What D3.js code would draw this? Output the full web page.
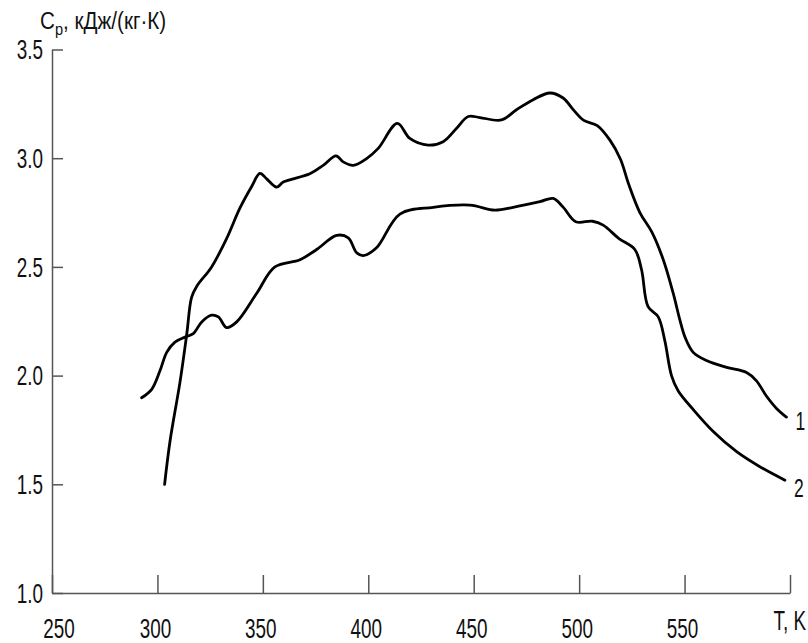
<!DOCTYPE html>
<html>
<head>
<meta charset="utf-8">
<script src="https://cdn.jsdelivr.net/npm/d3@7/dist/d3.min.js"></script>
<style>
  html, body { margin: 0; padding: 0; background: #fff; }
  svg { display: block; }
  text { font-family: "Liberation Sans", Arial, sans-serif; fill: #111; }
</style>
</head>
<body>
<svg id="chart" width="808" height="643"></svg>
<script>
// ---- data ----
const xTicks = [250, 300, 350, 400, 450, 500, 550, 600];
const xTickLabels = ["250", "300", "350", "400", "450", "500", "550", ""];
const yTicks = [1.0, 1.5, 2.0, 2.5, 3.0, 3.5];
const yTickLabels = ["1.0", "1.5", "2.0", "2.5", "3.0", "3.5"];
const seriesNames = ["1", "2"];

const series1T = [303.4, 306, 310.7, 313.9, 316.2, 318.6, 325.7, 332.8, 339.1, 344.7, 348.6, 351.8, 356.5, 359.7, 372.3, 378.6, 384.7, 388.1, 392.9, 399.2, 404.7, 413.8, 419.7, 428.4, 435.5, 441.9, 447.4, 452.9, 463.2, 470.3, 478.2, 486.1, 492.4, 497.5, 502.2, 508.6, 514.6, 519.6, 523.5, 528.8, 534.5, 539.9, 544.6, 547.8, 550.2, 554.1, 560.4, 569.9, 579.4, 584.1, 588.8, 593.6, 598.3];
const series1Cp = [1.50, 1.70, 1.97, 2.19, 2.36, 2.41, 2.50, 2.63, 2.77, 2.87, 2.93, 2.905, 2.867, 2.89, 2.928, 2.967, 3.011, 2.983, 2.967, 2.998, 3.045, 3.16, 3.091, 3.06, 3.076, 3.138, 3.192, 3.187, 3.176, 3.223, 3.269, 3.30, 3.277, 3.22, 3.174, 3.15, 3.083, 2.995, 2.88, 2.75, 2.66, 2.533, 2.379, 2.255, 2.177, 2.107, 2.069, 2.038, 2.014, 1.976, 1.906, 1.849, 1.809];

const series2T = [292.5, 297.3, 301.2, 304.4, 308.3, 313.1, 317, 321, 325.7, 328.9, 332.8, 337.6, 347.1, 355.7, 367.6, 375.5, 385, 390.5, 394.5, 397.6, 403.9, 415, 430.8, 448.2, 460, 468.7, 481.4, 487.7, 492.4, 498.4, 506.3, 511.4, 518.9, 526.4, 529.6, 532.7, 537.5, 540.6, 543.8, 547, 554.1, 563.6, 574.7, 585.7, 597.6];
const series2Cp = [1.898, 1.937, 2.022, 2.107, 2.154, 2.177, 2.193, 2.247, 2.278, 2.27, 2.221, 2.247, 2.379, 2.50, 2.533, 2.58, 2.645, 2.634, 2.565, 2.552, 2.588, 2.743, 2.774, 2.784, 2.761, 2.774, 2.800, 2.815, 2.775, 2.708, 2.71, 2.692, 2.63, 2.58, 2.487, 2.317, 2.27, 2.162, 2.0, 1.929, 1.844, 1.743, 1.65, 1.581, 1.519];

// ---- layout ----
const svg = d3.select("#chart");
const x = d3.scaleLinear().domain([250, 600]).range([52, 790]);
const y = d3.scaleLinear().domain([1.0, 3.5]).range([593, 49.5]);
const axisColor = "#555";
const fontSize = 27;
const narrow = 0.7;

function narrowText(sel, px, py) {
  return sel.attr("transform", (d, i) => `translate(${px(d, i)},${py(d, i)}) scale(${narrow},1)`);
}

// Y axis
const yAxis = svg.append("g").attr("transform", `translate(${x(250)},0)`)
  .call(d3.axisRight(y).tickValues(yTicks).tickSize(11).tickFormat("").tickSizeOuter(0));
yAxis.select(".domain").attr("stroke", axisColor).attr("stroke-width", 1.5);
yAxis.selectAll(".tick line").attr("stroke", axisColor).attr("stroke-width", 1.5);
narrowText(svg.append("g").selectAll("text").data(yTicks).join("text"),
    () => x(250) - 9, d => y(d))
  .attr("dy", "0.36em")
  .attr("text-anchor", "end")
  .style("font-size", fontSize + "px")
  .text((d, i) => yTickLabels[i]);

// X axis
const xAxis = svg.append("g").attr("transform", `translate(0,${y(1.0)})`)
  .call(d3.axisTop(x).tickValues(xTicks).tickSize(18).tickFormat("").tickSizeOuter(0));
xAxis.select(".domain").attr("stroke", axisColor).attr("stroke-width", 1.5);
xAxis.selectAll(".tick line").attr("stroke", axisColor).attr("stroke-width", 1.5);
narrowText(svg.append("g").selectAll("text").data(xTicks).join("text"),
    (d, i) => x(d) + (i === 0 ? 7 : -2), () => y(1.0) + 35)
  .attr("dy", "0.36em")
  .attr("text-anchor", "middle")
  .style("font-size", fontSize + "px")
  .text((d, i) => xTickLabels[i]);

// Axis titles
svg.append("text").attr("transform", `translate(806,630) scale(${narrow},1)`)
  .attr("text-anchor", "end").style("font-size", fontSize + "px").text("T, K");
const yt = svg.append("text").attr("transform", `translate(40,29) scale(0.86,1)`).style("font-size", "24px");
yt.append("tspan").text("C");
yt.append("tspan").attr("dy", 6).style("font-size", "17px").text("p");
yt.append("tspan").attr("dy", -6).text(", кДж/(кг·К)");

// Curves
const line = d3.line().x(d => x(d[0])).y(d => y(d[1])).curve(d3.curveCatmullRom.alpha(0.5));
const s1 = series1T.map((t, i) => [t, series1Cp[i]]);
const s2 = series2T.map((t, i) => [t, series2Cp[i]]);
svg.append("g").selectAll("path").data([s1, s2]).join("path")
  .attr("d", line)
  .attr("fill", "none")
  .attr("stroke", "#000")
  .attr("stroke-width", 2.8)
  .attr("stroke-linejoin", "round")
  .attr("stroke-linecap", "round");

// Series labels
const ends = [s1[s1.length - 1], s2[s2.length - 1]];
narrowText(svg.append("g").selectAll("text").data(ends).join("text"),
    d => x(d[0]) + 14, (d, i) => y(d[1]) + (i === 0 ? 4 : 8))
  .attr("dy", "0.36em")
  .attr("text-anchor", "middle")
  .style("font-size", "25px")
  .text((d, i) => seriesNames[i]);
</script>
</body>
</html>
